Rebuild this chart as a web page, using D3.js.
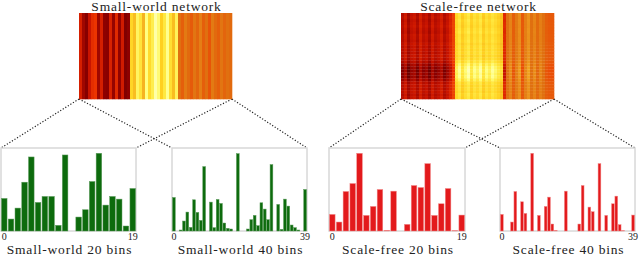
<!DOCTYPE html>
<html lang="en">
<head>
<meta charset="utf-8" />
<title>Small-world / scale-free histograms</title>
<style>
html, body {
	margin: 0;
	padding: 0;
	background: #fff;
}
svg { display: block; }
text {
	font-family: "Liberation Serif", "DejaVu Serif", serif;
	fill: #222;
}
</style>
</head>
<body>
<svg width="640" height="256"></svg>

<script src="https://cdn.jsdelivr.net/npm/d3@7/dist/d3.min.js"></script>
<script>
// bar heights (each histogram scaled to its own max)
var sw20 = [98, 36, 69, 147, 223, 86, 104, 104, 17, 229, 0, 42, 64, 149, 234, 78, 104, 96, 15, 128];
var sw40 = [101, 0, 3, 30, 57, 11, 94, 56, 32, 194, 0, 87, 10, 95, 83, 24, 8, 6, 0, 233,
            0, 0, 6, 34, 47, 16, 85, 66, 34, 200, 0, 80, 5, 96, 75, 18, 10, 3, 0, 125];
var sf20 = [50, 27, 119, 143, 234, 47, 74, 125, 2, 120, 0, 20, 137, 131, 203, 47, 82, 128, 1, 48];
var sf40 = [50, 0, 0, 27, 119, 0, 88, 53, 0, 234, 0, 47, 0, 74, 102, 21, 2, 0, 0, 120,
            0, 0, 0, 21, 137, 0, 72, 58, 0, 203, 0, 47, 0, 82, 105, 19, 1, 0, 0, 48];

// heatmap colour levels per column (0 = dark red, 1 = pale yellow)
var swCols = [0.33, 0.2, 0.14, 0.3, 0.37, 0.39, 0.2, 0.33, 0.16, 0.15, 0.34, 0.18, 0.36, 0.17, 0.32, 0.13, 0.16,
              0.72, 0.66, 0.85, 0.78, 0.64, 0.9, 0.74, 0.82, 0.95, 0.88, 0.7, 0.8, 0.92, 0.76, 0.66, 0.84,
              0.5, 0.47, 0.52, 0.49, 0.46, 0.51, 0.48, 0.53, 0.47, 0.5, 0.45, 0.52, 0.49, 0.47, 0.51, 0.48, 0.5, 0.49];
var sfCols = [0.26, 0.32, 0.22, 0.29, 0.31, 0.24, 0.33, 0.27, 0.3, 0.23, 0.32, 0.26, 0.29, 0.33, 0.25, 0.3, 0.35,
              0.42, 0.72, 0.78, 0.69, 0.75, 0.8, 0.7, 0.77, 0.73, 0.79, 0.69, 0.76, 0.72, 0.78, 0.74, 0.7, 0.67,
              0.36, 0.5, 0.54, 0.47, 0.52, 0.56, 0.46, 0.53, 0.57, 0.5, 0.54, 0.49, 0.53, 0.5, 0.47, 0.46, 0.46];
// per-row contrast of the scale-free map (darker band in the lower part)
var sfRows = [0.03, -0.03, 0.05, 0, -0.05, 0.03, 0.08, -0.03, 0, 0.05, -0.05, 0.03, 0, 0.05, -0.03,
              0.03, 0.15, 0.35, 0.5, 0.55, 0.45, 0.5, 0.3, 0.08, 0, 0.03, -0.03, 0.05, 0];

var titles = ["Small-world network", "Scale-free network"];
var labels = ["Small-world 20 bins", "Small-world 40 bins", "Scale-free 20 bins", "Scale-free 40 bins"];

var svg = d3.select("svg");

// colour map, close to a reversed "hot"
var color = d3.scaleLinear()
	.domain([0, 0.15, 0.3, 0.4, 0.5, 0.6, 0.7, 0.8, 0.9, 1])
	.range(["#4a0000", "#8a0000", "#c81400", "#f03800", "#e07010", "#f0a020", "#ffd020", "#ffe840", "#ffff80", "#ffffd0"])
	.clamp(true);

var mapTop = 13, mapBottom = 99;
var maps = [
	{x0: 79, x1: 232, title: titles[0], cols: swCols, rows: [0]},
	{x0: 401, x1: 554, title: titles[1], cols: sfCols, rows: sfRows}
];

var panTop = 148, panBottom = 231;
var panels = [
	{x0: 1, x1: 136, data: sw20, fill: "#0d6b0d", edge: "#5a9a5a", label: labels[0]},
	{x0: 172, x1: 307, data: sw40, fill: "#0d6b0d", edge: "#5a9a5a", label: labels[1]},
	{x0: 329, x1: 465, data: sf20, fill: "#e31a1c", edge: "#f28a8a", label: labels[2]},
	{x0: 500, x1: 635, data: sf40, fill: "#e31a1c", edge: "#f28a8a", label: labels[3]}
];

// dotted zoom lines from each heatmap to its two histograms
maps.forEach(function(m, k) {
	var a = panels[k * 2], b = panels[k * 2 + 1];
	var segs = [[m.x0, a.x0], [m.x0, b.x0], [m.x1, a.x1], [m.x1, b.x1]];
	svg.append("g").selectAll("line")
		.data(segs)
		.join("line")
		.attr("x1", function(d) { return d[0]; })
		.attr("y1", mapBottom)
		.attr("x2", function(d) { return d[1]; })
		.attr("y2", panTop)
		.attr("stroke", "#222")
		.attr("stroke-width", 1.2)
		.attr("stroke-dasharray", "1.2,1.8");
});

// heatmaps
maps.forEach(function(m) {
	var x = d3.scaleBand().domain(d3.range(m.cols.length)).range([m.x0, m.x1]);
	var y = d3.scaleBand().domain(d3.range(m.rows.length)).range([mapTop, mapBottom]);
	var cells = [];
	m.rows.forEach(function(r, j) {
		m.cols.forEach(function(c, i) {
			cells.push({i: i, j: j, v: c + r * (c - 0.5)});
		});
	});
	svg.append("g").selectAll("rect")
		.data(cells)
		.join("rect")
		.attr("x", function(d) { return x(d.i); })
		.attr("y", function(d) { return y(d.j); })
		.attr("width", x.bandwidth() + 0.3)
		.attr("height", y.bandwidth() + 0.3)
		.attr("fill", function(d) { return color(d.v); });

	svg.append("text")
		.attr("x", (m.x0 + m.x1) / 2 + 1)
		.attr("y", 11)
		.attr("text-anchor", "middle")
		.style("font-size", "13.5px")
		.style("letter-spacing", "0.8px")
		.text(m.title);
});

// histograms
panels.forEach(function(p) {
	var g = svg.append("g");
	var x = d3.scaleBand()
		.domain(d3.range(p.data.length))
		.range([p.x0 + 0.5, p.x1 - 0.5])
		.paddingInner(0.18);
	var y = d3.scaleLinear().domain([0, 250]).range([panBottom, panTop]);

	g.append("rect")
		.attr("x", p.x0)
		.attr("y", panTop)
		.attr("width", p.x1 - p.x0)
		.attr("height", panBottom - panTop)
		.attr("fill", "none")
		.attr("stroke", "#d8d8d8")
		.attr("stroke-width", 1.5);

	g.selectAll(".bar")
		.data(p.data)
		.join("rect")
		.attr("class", "bar")
		.attr("x", function(d, i) { return x(i); })
		.attr("y", function(d) { return y(d); })
		.attr("width", x.bandwidth())
		.attr("height", function(d) { return panBottom - y(d); })
		.attr("fill", p.fill)
		.attr("stroke", p.edge)
		.attr("stroke-width", 0.5);

	var axis = d3.axisBottom(x)
		.tickValues([0, p.data.length - 1])
		.tickSize(0)
		.tickPadding(2);
	var ag = g.append("g")
		.attr("transform", "translate(0," + panBottom + ")")
		.call(axis);
	ag.select(".domain").remove();
	ag.selectAll("text")
		.style("font-size", "10px")
		.style("font-family", "\"Liberation Serif\", serif")
		.attr("fill", "#222");

	g.append("text")
		.attr("x", (p.x0 + p.x1) / 2 + 1)
		.attr("y", 253.5)
		.attr("text-anchor", "middle")
		.style("font-size", "13.5px")
		.style("letter-spacing", "0.8px")
		.text(p.label);
});
</script>
</body>
</html>
